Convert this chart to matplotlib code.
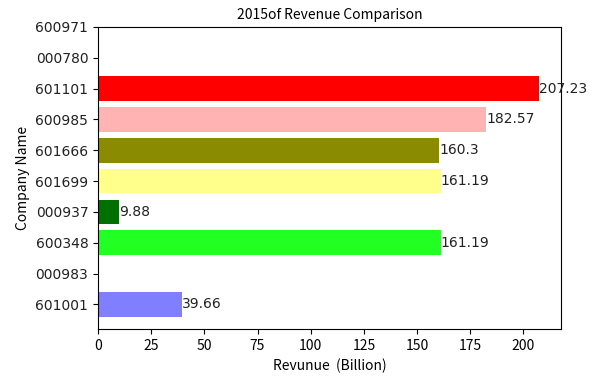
import matplotlib
matplotlib.use("Agg")
import matplotlib.pyplot as plt

companies = ["601001", "000983", "600348", "000937", "601699",
             "601666", "600985", "601101", "000780", "600971"]
revenue = [39.66, None, 161.19, 9.88, 161.19, 160.3, 182.57, 207.23, None, None]
colors = ["#7f7fff", "#ffffff", "#22ff22", "#007000", "#ffff8c",
          "#8b8b00", "#ffb3b3", "#ff0000", "#ffffff", "#ffffff"]

plt.rcParams["font.family"] = ["Noto Sans CJK JP", "DejaVu Sans"]

fig = plt.figure(figsize=(6.05, 3.78), dpi=100)
ax = fig.add_axes([0.162, 0.1296, 0.765, 0.799])

pos = list(range(len(companies)))
widths = [v if v is not None else 0 for v in revenue]
ax.barh(pos, widths, height=0.8, color=colors)
for y, v in zip(pos, revenue):
    if v is not None:
        ax.text(v, y, f"{v:g}", va="center", ha="left", fontsize=10,
                family="DejaVu Sans", color="#222222")

ax.set_yticks(pos)
ax.set_yticklabels(companies, fontsize=10, family="DejaVu Sans", color="#222222")
ax.set_ylim(-0.8, len(companies) - 1)
ax.set_xlim(0, max(widths) * 1.05)
ax.set_xticks(range(0, 201, 25))
ax.tick_params(axis="x", labelsize=10)
ax.set_title("2015of Revenue Comparison", fontsize=10)
ax.set_xlabel("Revunue  (Billion)", fontsize=10)
ax.set_ylabel("Company Name", fontsize=10, labelpad=4)

fig.savefig("out.png", dpi=100)
